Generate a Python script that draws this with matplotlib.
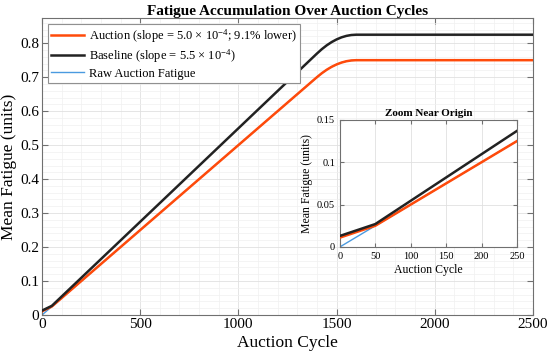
import matplotlib
matplotlib.use("Agg")
import matplotlib.pyplot as plt
from matplotlib.ticker import MultipleLocator

plt.rcParams['font.family'] = ['Liberation Serif', 'DejaVu Serif']
plt.rcParams['mathtext.fontset'] = 'custom'
plt.rcParams['mathtext.rm'] = 'Liberation Serif'
plt.rcParams['mathtext.it'] = 'Liberation Serif:italic'

# ---- data ----
cycles = [0, 50, 1400, 1425, 1450, 1475, 1500, 1525, 1550, 1575, 1600, 2500]
baseline = [0.013, 0.027, 0.7695, 0.7825, 0.7938, 0.8033, 0.8111, 0.8172, 0.8215, 0.8241, 0.825, 0.825]
auction = [0.011, 0.025, 0.700, 0.7117, 0.7219, 0.7305, 0.7375, 0.7430, 0.7469, 0.7492, 0.750, 0.750]
raw_auction = [0.000, 0.025, 0.700, 0.7117, 0.7219, 0.7305, 0.7375, 0.7430, 0.7469, 0.7492, 0.750, 0.750]

labels = ["Auction (slope = 5.0 \u00d7 10$^{\u22124}$; 9.1% lower)",
          "Baseline (slope = 5.5 \u00d7 10$^{\u22124}$)",
          "Raw Auction Fatigue"]
title = "Fatigue Accumulation Over Auction Cycles"
inset_title = "Zoom Near Origin"
xlabel = "Auction Cycle"
ylabel = "Mean Fatigue (units)"

c_auction = '#FF4A0A'
c_base = '#222222'
c_raw = '#4A9AE0'
spine_c = '#707070'

fig = plt.figure(figsize=(5.5, 3.61), dpi=100)
ax = fig.add_axes([0.0764, 0.1274, 0.8926, 0.8226])

def style(a, minor=True):
    for s in a.spines.values():
        s.set_color(spine_c)
        s.set_linewidth(0.8)
    a.tick_params(which='both', direction='in', top=True, right=True, color=spine_c)
    a.grid(True, which='major', color='#e0e0e0', lw=0.6)
    if minor:
        a.grid(True, which='minor', color='#f0f0f0', lw=0.5)
    a.set_axisbelow(True)

l3, = ax.plot(cycles, raw_auction, color=c_raw, lw=1.0, zorder=2)
l1, = ax.plot(cycles, auction, color=c_auction, lw=1.8, zorder=3)
l2, = ax.plot(cycles, baseline, color=c_base, lw=1.8, zorder=4)

ax.set_xlim(0, 2500)
ax.set_ylim(0, 0.874)
ax.xaxis.set_major_locator(MultipleLocator(500))
ax.xaxis.set_minor_locator(MultipleLocator(100))
ax.yaxis.set_minor_locator(MultipleLocator(0.02))
ax.set_yticks([0, 0.1, 0.2, 0.3, 0.4, 0.5, 0.6, 0.7, 0.8])
ax.set_yticklabels(['0', '0.1', '0.2', '0.3', '0.4', '0.5', '0.6', '0.7', '0.8'])
style(ax)
ax.tick_params(which='major', length=4, labelsize=11, pad=2)
ax.tick_params(which='minor', length=0)
ax.set_xlabel(xlabel, fontsize=12.5, labelpad=3)
ax.set_ylabel(ylabel, fontsize=12.5, labelpad=2)
ax.set_title(title, fontsize=11, fontweight='bold', pad=2)

leg = ax.legend([l1, l2, l3], labels, loc='upper left', fontsize=9,
                fancybox=False, edgecolor='#909090', framealpha=1,
                handlelength=2.6, borderaxespad=0.5, borderpad=0.25,
                labelspacing=0.2, handletextpad=0.4)
leg.get_frame().set_linewidth(0.8)

# ---- inset ----
ins = fig.add_axes([0.618, 0.316, 0.322, 0.352])
ins.plot(cycles, raw_auction, color=c_raw, lw=1.0, zorder=2)
ins.plot(cycles, auction, color=c_auction, lw=1.8, zorder=3)
ins.plot(cycles, baseline, color=c_base, lw=1.8, zorder=4)
ins.set_xlim(0, 250)
ins.set_ylim(0, 0.15)
ins.set_xticks([0, 50, 100, 150, 200, 250])
ins.set_yticks([0, 0.05, 0.1, 0.15])
ins.set_yticklabels(['0', '0.05', '0.1', '0.15'])
style(ins, minor=False)
ins.tick_params(which='major', length=3, labelsize=7.5)
ins.set_xlabel(xlabel, fontsize=8.5, labelpad=2)
ins.set_ylabel(ylabel, fontsize=8.5, labelpad=3)
ins.set_title(inset_title, fontsize=8, fontweight='bold', pad=3)

fig.savefig('out.png', dpi=100, facecolor='white')
